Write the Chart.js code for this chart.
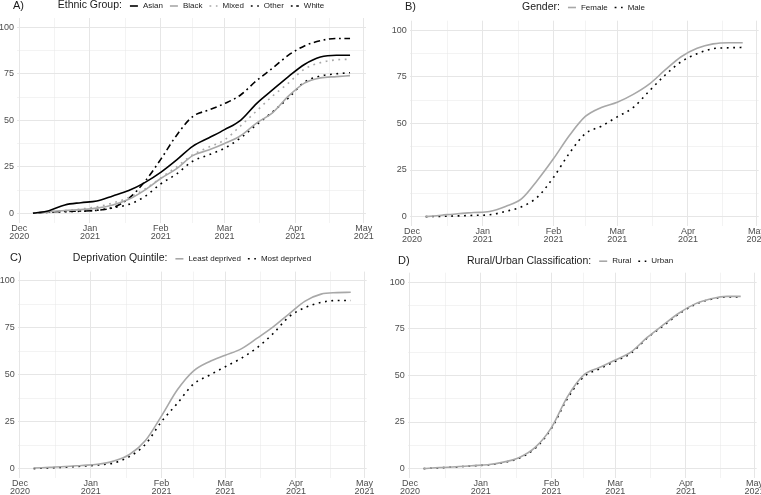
<!DOCTYPE html>
<html>
<head>
<meta charset="utf-8">
<script src="https://cdn.jsdelivr.net/npm/chart.js@4.4.1/dist/chart.umd.min.js"></script>
<style>
  body { margin: 0; background: #fff; }
  #wrap { position: relative; width: 761px; height: 495px; }
  #wrap canvas { position: absolute; }
</style>
</head>
<body>
<div id="wrap">
  <canvas id="chartA" width="380" height="247" style="left:0;top:0"></canvas>
  <canvas id="chartB" width="381" height="247" style="left:380px;top:0"></canvas>
  <canvas id="chartC" width="380" height="248" style="left:0;top:247px"></canvas>
  <canvas id="chartD" width="381" height="248" style="left:380px;top:247px"></canvas>
</div>
<script>
// days since 1 Dec 2020
const days = [6, 13, 20, 27, 34, 41, 48, 55, 62, 69, 76, 83, 90, 97, 104, 111, 118, 125, 132, 139, 145];

// A) ethnic group
const asian = [0, 1.4, 4.5, 5.7, 6.6, 9.3, 12.2, 16.5, 22, 28.7, 36, 40.5, 45, 50, 59, 66.3, 73.5, 80, 84, 85, 85];
const black = [0, 0.8, 1.5, 2, 2.8, 4.5, 7.5, 12.5, 18.7, 24, 31, 34, 37.5, 41.7, 48.5, 54, 63, 70, 72.8, 73.5, 74];
const mixed = [0, 0.8, 1.5, 2.3, 3.5, 5.5, 8.5, 13, 19, 25, 31.5, 35.5, 39.5, 47, 55, 63, 70, 77.5, 81, 82.5, 82.8];
const other = [0, 0.5, 0.8, 1.1, 1.6, 3, 4.8, 9, 15.8, 21.2, 28, 31.4, 35, 40.5, 47.6, 54.5, 62, 70.5, 73.8, 75, 75.6];
const white = [0, 0.7, 1, 1.2, 1.6, 3, 8, 17, 29, 42, 52, 55.5, 59, 63.6, 71.3, 78, 85, 90, 92.8, 94, 94];

// B) gender
const female = [0, 0.8, 1.6, 2.2, 2.8, 5.5, 9.5, 19.5, 31, 43.5, 53.7, 58.5, 61.3, 65.5, 71, 78.6, 85.7, 90.2, 92.6, 93.2, 93.2];
const male = [0, 0.2, 0.4, 0.7, 1, 2.8, 5.3, 10.5, 21, 34, 44.5, 48.5, 53.5, 58.5, 67.3, 75.9, 83, 87.3, 90, 90.5, 90.7];

// C) deprivation quintile
const leastDeprived = [0.3, 0.7, 1.1, 1.7, 2.3, 4, 7.5, 15, 28, 42, 52, 57, 60.4, 63.8, 69.5, 75.5, 82.5, 89.3, 93, 93.8, 94];
const mostDeprived = [0, 0.4, 0.8, 1.3, 1.9, 3, 6.4, 13, 25, 34.8, 45, 49.8, 54.3, 58.8, 64.5, 72, 81, 85.8, 88.6, 89.6, 89.6];

// D) rural / urban
const rural = [0, 0.6, 1, 1.6, 2.1, 3.5, 6, 11.5, 22, 38.5, 50, 54.2, 58.2, 62.6, 70.3, 77, 83.4, 88.3, 91, 92.3, 92.3];
const urban = [0, 0.5, 0.9, 1.5, 2, 3.3, 5.7, 11, 21.5, 37.5, 49, 53.5, 57.5, 62, 70, 76.5, 83, 88, 90.8, 92, 92];

// axis ticks
const monthTicks = [0, 31, 62, 90, 121, 151];
const monthLabels = [['Dec', '2020'], ['Jan', '2021'], ['Feb', '2021'], ['Mar', '2021'], ['Apr', '2021'], ['May', '2021']];
const yTicks = [0, 25, 50, 75, 100];

const FONT = '"Liberation Sans", Arial, sans-serif';
const GREY = '#a8a8a8';
const DOT = [1.8, 4.6];
const DOTDASH = [1.8, 3.6, 6.5, 3.6];

// mid-month / mid-step minor grid lines
const minorX = monthTicks.slice(1).map((v, i) => (v + monthTicks[i]) / 2);
const minorY = yTicks.slice(1).map((v, i) => (v + yTicks[i]) / 2);

function toPoints(vals) {
    return vals.map((v, i) => ({ x: days[i], y: v }));
}

// legend drawn on one line: tag, title, then sample + label for each series
const headerPlugin = {
    id: 'header',
    afterDraw(chart, args, opts) {
        const ctx = chart.ctx;
        ctx.save();
        ctx.textBaseline = 'middle';
        ctx.fillStyle = '#1a1a1a';
        ctx.font = '11px ' + FONT;
        ctx.fillText(opts.tag, opts.tagX, opts.y);

        const titleFont = '10.5px ' + FONT;
        const itemFont = '8px ' + FONT;
        const sample = 8, gapTitle = 8, gapLabel = 5, gapItem = 7;
        ctx.font = titleFont;
        let total = ctx.measureText(opts.title).width + gapTitle;
        ctx.font = itemFont;
        const sets = chart.data.datasets;
        sets.forEach((ds, i) => {
            total += sample + gapLabel + ctx.measureText(ds.label).width;
            if (i < sets.length - 1) total += gapItem;
        });

        let x = opts.centerX - total / 2;
        ctx.font = titleFont;
        ctx.fillStyle = '#1a1a1a';
        ctx.fillText(opts.title, x, opts.y);
        x += ctx.measureText(opts.title).width + gapTitle;

        ctx.font = itemFont;
        sets.forEach(ds => {
            ctx.beginPath();
            ctx.strokeStyle = ds.borderColor;
            ctx.lineWidth = ds.borderWidth;
            ctx.setLineDash(ds.borderDash || []);
            ctx.moveTo(x, opts.y + 0.5);
            ctx.lineTo(x + sample, opts.y + 0.5);
            ctx.stroke();
            ctx.setLineDash([]);
            x += sample + gapLabel;
            ctx.fillStyle = '#1a1a1a';
            ctx.fillText(ds.label, x, opts.y + 0.5);
            x += ctx.measureText(ds.label).width + gapItem;
        });
        ctx.restore();
    }
};

function line(label, vals, color, dash) {
    return {
        label: label,
        data: toPoints(vals),
        borderColor: color,
        borderWidth: 1.6,
        borderDash: dash,
        borderCapStyle: 'butt',
        pointRadius: 0,
        cubicInterpolationMode: 'monotone',
        fill: false
    };
}

function makeChart(id, datasets, g) {
    const canvas = document.getElementById(id);
    return new Chart(canvas, {
        type: 'line',
        data: { datasets: datasets },
        plugins: [headerPlugin],
        options: {
            responsive: false,
            animation: false,
            layout: { padding: { left: 0, top: g.top, right: g.right, bottom: 0 } },
            plugins: {
                legend: { display: false },
                tooltip: { enabled: false },
                header: g.header
            },
            scales: {
                x: {
                    type: 'linear',
                    min: -1,
                    max: 152,
                    border: { display: false },
                    grid: {
                        drawTicks: false,
                        color: '#e6e6e6',
                        lineWidth: c => monthTicks.includes(c.tick.value) ? 1 : 0.5
                    },
                    afterBuildTicks: s => {
                        s.ticks = monthTicks.concat(minorX).sort((a, b) => a - b).map(v => ({ value: v }));
                    },
                    afterFit: s => {
                        s.height = g.xHeight;
                        s.paddingLeft = 0;
                        s.paddingRight = 0;
                    },
                    ticks: {
                        autoSkip: false,
                        maxRotation: 0,
                        padding: 2,
                        color: '#4d4d4d',
                        font: { family: FONT, size: 9, lineHeight: 0.85 },
                        callback: v => {
                            const i = monthTicks.indexOf(v);
                            return i >= 0 ? monthLabels[i] : '';
                        }
                    }
                },
                y: {
                    min: -5,
                    max: 105,
                    border: { display: false },
                    grid: {
                        drawTicks: false,
                        color: '#e6e6e6',
                        lineWidth: c => yTicks.includes(c.tick.value) ? 1 : 0.5
                    },
                    afterBuildTicks: s => {
                        s.ticks = yTicks.concat(minorY).sort((a, b) => a - b).map(v => ({ value: v }));
                    },
                    afterFit: s => {
                        s.width = g.left;
                        s.paddingTop = 0;
                        s.paddingBottom = 0;
                    },
                    ticks: {
                        padding: 3,
                        color: '#4d4d4d',
                        font: { family: FONT, size: 9 },
                        callback: v => yTicks.includes(v) ? String(v) : ''
                    }
                }
            }
        }
    });
}

makeChart('chartA', [
    line('Asian', asian, '#000000'),
    line('Black', black, GREY),
    line('Mixed', mixed, GREY, DOT),
    line('Other', other, '#000000', DOT),
    line('White', white, '#000000', DOTDASH)
], { left: 17, right: 14, top: 18, xHeight: 24.4,
     header: { tag: 'A)', tagX: 13, y: 5.5, title: 'Ethnic Group:', centerX: 191 } });

makeChart('chartB', [
    line('Female', female, GREY),
    line('Male', male, '#000000', DOT)
], { left: 29.7, right: 2.3, top: 20.7, xHeight: 21,
     header: { tag: 'B)', tagX: 25, y: 7, title: 'Gender:', centerX: 203.5 } });

makeChart('chartC', [
    line('Least deprived', leastDeprived, GREY),
    line('Most deprived', mostDeprived, '#000000', DOT)
], { left: 17.7, right: 13.3, top: 24.6, xHeight: 17,
     header: { tag: 'C)', tagX: 10, y: 11.3, title: 'Deprivation Quintile:', centerX: 192 } });

makeChart('chartD', [
    line('Rural', rural, GREY),
    line('Urban', urban, '#000000', DOT)
], { left: 27.7, right: 4.3, top: 25.7, xHeight: 17,
     header: { tag: 'D)', tagX: 18, y: 13.7, title: 'Rural/Urban Classification:', centerX: 190 } });
</script>
</body>
</html>
